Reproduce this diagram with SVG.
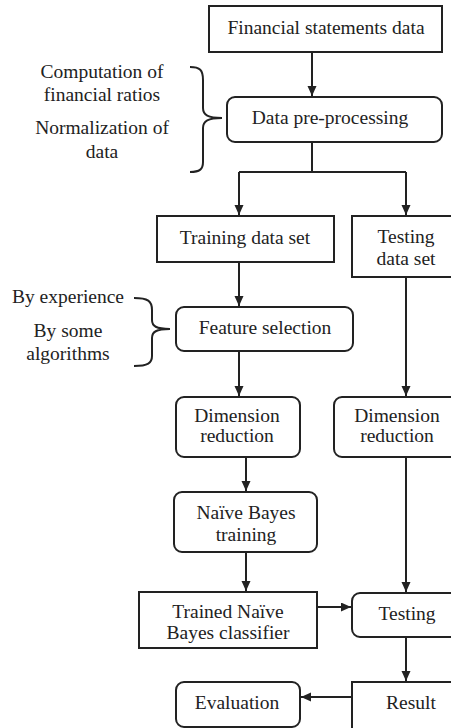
<svg xmlns="http://www.w3.org/2000/svg" width="451" height="728" viewBox="0 0 451 728">
<defs>
<style>
.box{fill:#fff;stroke:#222;stroke-width:2}
text{font-family:"Liberation Serif","Times New Roman",serif;font-size:19.5px;fill:#222;text-anchor:middle}
.c{fill:none;stroke:#222;stroke-width:2}
.br{fill:none;stroke:#222;stroke-width:2}
</style>
<marker id="ah" markerUnits="userSpaceOnUse" markerWidth="11" markerHeight="10" refX="10" refY="4.5" orient="auto">
<path d="M0,0 L10,4.5 L0,9 z" fill="#222"/>
</marker>
</defs>
<rect width="451" height="728" fill="#fff"/>
<g id="connectors">
<path class="c" d="M312,52 V96" marker-end="url(#ah)"/>
<path class="c" d="M312,142 V172 M239,172 H406"/>
<path class="c" d="M239,172 V215" marker-end="url(#ah)"/>
<path class="c" d="M406,172 V215" marker-end="url(#ah)"/>
<path class="c" d="M239,262 V306" marker-end="url(#ah)"/>
<path class="c" d="M239,351 V396" marker-end="url(#ah)"/>
<path class="c" d="M406,277 V396" marker-end="url(#ah)"/>
<path class="c" d="M246,457 V491" marker-end="url(#ah)"/>
<path class="c" d="M246,552 V591" marker-end="url(#ah)"/>
<path class="c" d="M317,607 H351" marker-end="url(#ah)"/>
<path class="c" d="M406,457 V592" marker-end="url(#ah)"/>
<path class="c" d="M406,637 V681" marker-end="url(#ah)"/>
<path class="c" d="M352,697 H301" marker-end="url(#ah)"/>
</g>
<g id="brace1">
<path class="br" d="M190,67 C200,67 203,70 203,80 L203,108 C203,115 208,118 222,118 C208,118 203,121 203,128 L203,162 C203,169 200,172 190,172"/>
<text x="102" y="78">Computation of</text>
<text x="102" y="101">financial ratios</text>
<text x="102" y="134">Normalization of</text>
<text x="102" y="158">data</text>
</g>
<g id="brace2">
<path class="br" d="M134,298 C148,298 152,301 152,310 L152,320 C152,326 156,329 170,329 C156,329 152,332 152,338 L152,356 C152,363 148,366 134,366"/>
<text x="68" y="303">By experience</text>
<text x="68" y="337">By some</text>
<text x="68" y="360">algorithms</text>
</g>
<g id="n1"><rect class="box" x="209" y="6" width="233" height="46"/><text x="326" y="34">Financial statements data</text></g>
<g id="n2"><rect class="box" x="227" y="97" width="215" height="45" rx="8"/><text x="330" y="124">Data pre-processing</text></g>
<g id="n3"><rect class="box" x="157" y="216" width="177" height="46"/><text x="245" y="244">Training data set</text></g>
<g id="n4"><rect class="box" x="352" y="216" width="110" height="61"/><text x="406" y="243">Testing</text><text x="406" y="265">data set</text></g>
<g id="n5"><rect class="box" x="176" y="307" width="177" height="44" rx="8"/><text x="265" y="334">Feature selection</text></g>
<g id="n6"><rect class="box" x="176" y="397" width="124" height="60" rx="8"/><text x="237" y="422">Dimension</text><text x="237" y="442">reduction</text></g>
<g id="n7"><rect class="box" x="334" y="397" width="128" height="60" rx="8"/><text x="397" y="422">Dimension</text><text x="397" y="442">reduction</text></g>
<g id="n8"><rect class="box" x="174" y="492" width="143" height="60" rx="8"/><text x="246" y="519">Naïve Bayes</text><text x="246" y="541">training</text></g>
<g id="n9"><rect class="box" x="139" y="592" width="178" height="56"/><text x="228" y="618">Trained Naïve</text><text x="228" y="639">Bayes classifier</text></g>
<g id="n10"><rect class="box" x="352" y="593" width="110" height="44" rx="8"/><text x="407" y="620">Testing</text></g>
<g id="n11"><rect class="box" x="352" y="682" width="110" height="60"/><text x="411" y="709">Result</text></g>
<g id="n12"><rect class="box" x="176" y="682" width="124" height="45" rx="8"/><text x="237" y="709">Evaluation</text></g>
</svg>
